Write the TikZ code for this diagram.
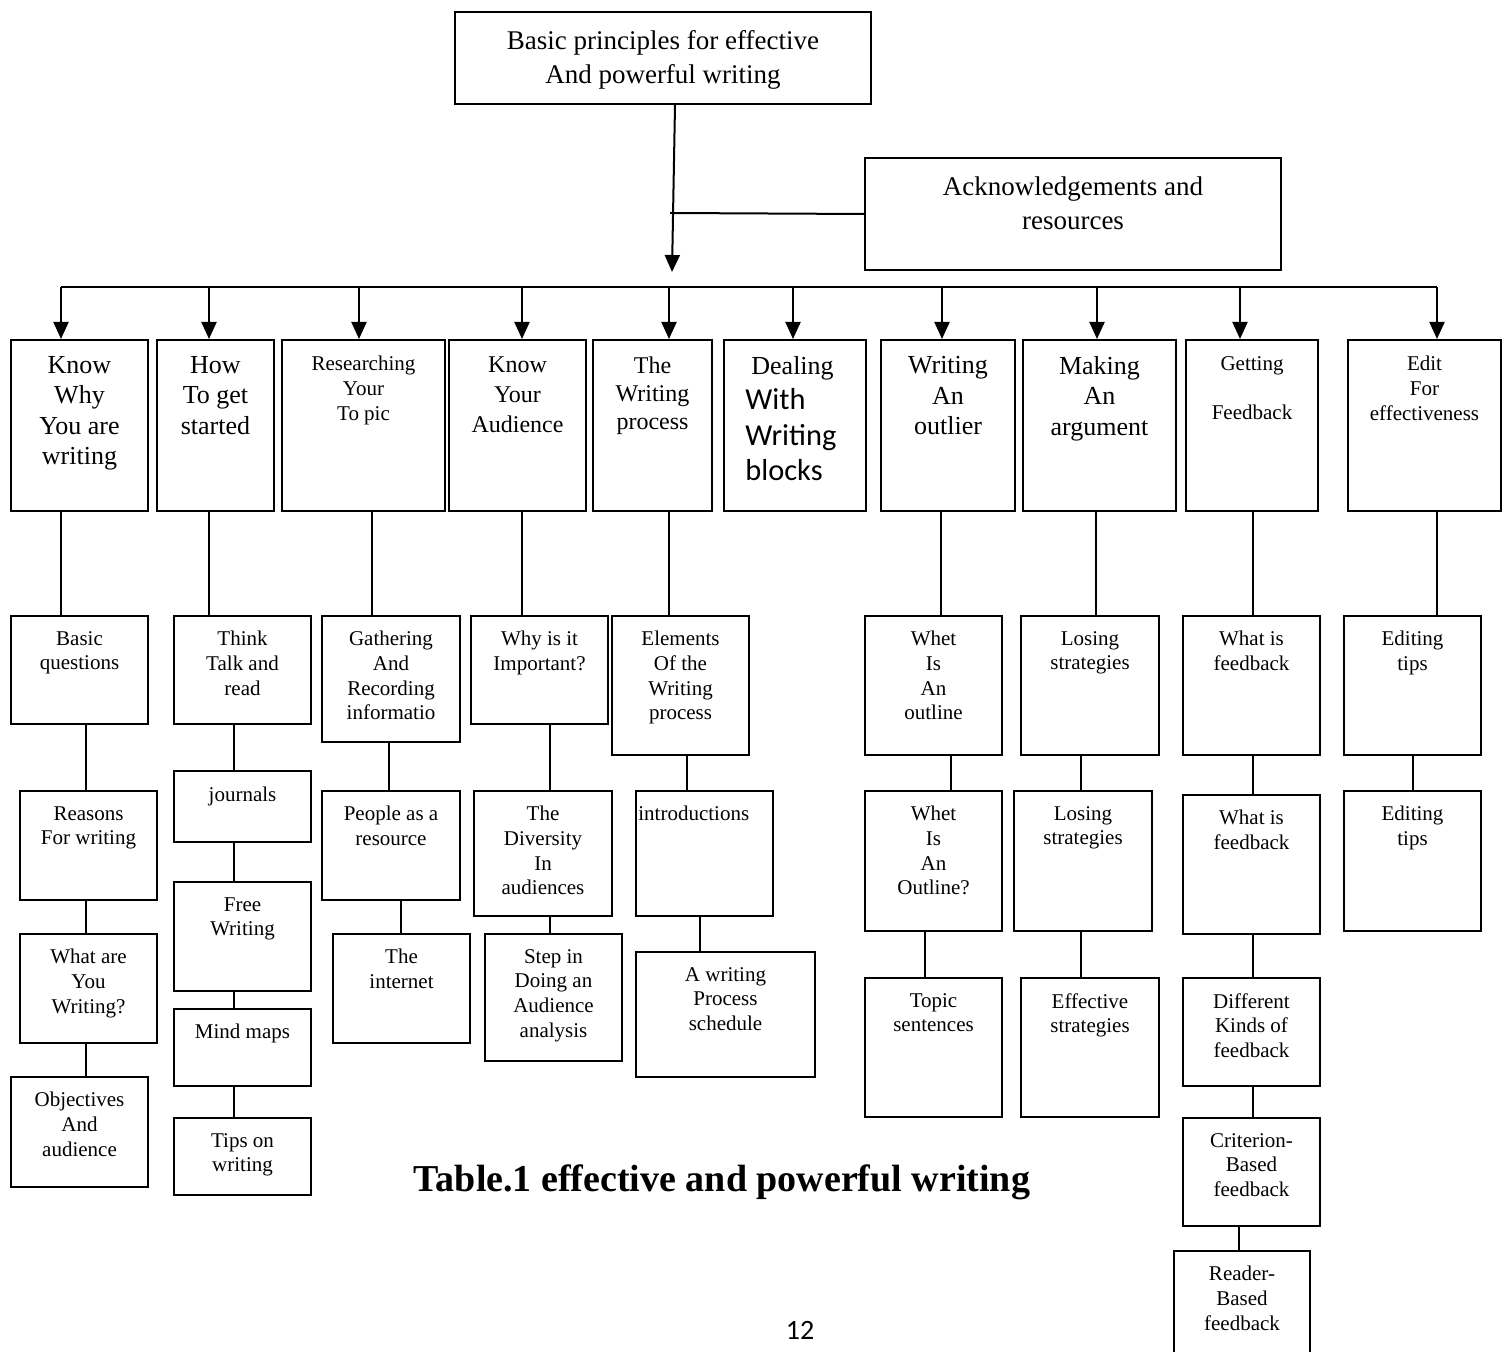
\documentclass[tikz,border=0pt]{standalone}
\usepackage{fontspec}
\setmainfont{Liberation Serif}
\newfontfamily\calfont{Carlito}
\usetikzlibrary{arrows,arrows.meta,positioning}

\newcommand{\blockfont}{\calfont\fontsize{15.2}{18}\selectfont}

\tikzset{
  box/.style={draw, line width=1pt, anchor=north west, inner sep=0pt},
  txt/.style={align=center, inner sep=0pt, font=\fontsize{10.5}{12.3}\selectfont},
  midtxt/.style={align=center, inner sep=0pt, font=\fontsize{12}{14}\selectfont},
  bigtxt/.style={align=center, inner sep=0pt, font=\fontsize{13}{15.2}\selectfont},
  headtxt/.style={align=center, inner sep=0pt, font=\fontsize{13.5}{17}\selectfont},
  link/.style={line width=1pt},
  arr/.style={line width=1pt, -{Triangle[length=8.5pt,width=7.5pt]}}
}

\begin{document}
\begin{tikzpicture}[x=0.5pt,y=-0.5pt]
        \useasboundingbox (0,0) rectangle (1504,1352);

        % head
        \node[box, minimum width=208pt, minimum height=46pt] (title) at (454,11) {};
        \node[headtxt, below=9.5pt of title.north] (titlet) {Basic principles for effective\\And powerful writing};
        \node[box, minimum width=208pt, minimum height=56pt] (ack) at (864,157) {};
        \node[headtxt, below=9.5pt of ack.north] (ackt) {Acknowledgements and\\resources};

        \coordinate (hub) at (672,272);
        \coordinate (ackend) at (670,213);
        \coordinate (busl) at (61,287);
        \coordinate (busr) at (1437,287);
        \draw[arr] (675,0 |- title.south) -- (hub);
        \draw[link] (ack.west) -- (ackend);
        \draw[link] (busl) -- (busr);

        % first row
        \node[box, minimum width=68.5pt, minimum height=85.5pt] (why) at (10,339) {};
        \node[box, minimum width=58.5pt, minimum height=85.5pt] (start) at (156,339) {};
        \node[box, minimum width=81.5pt, minimum height=85.5pt] (topic) at (281,339) {};
        \node[box, minimum width=68.5pt, minimum height=85.5pt] (aud) at (448,339) {};
        \node[box, minimum width=59.5pt, minimum height=85.5pt] (proc) at (592,339) {};
        \node[box, minimum width=71pt, minimum height=85.5pt] (block) at (723,339) {};
        \node[box, minimum width=67pt, minimum height=85.5pt] (outl) at (880,339) {};
        \node[box, minimum width=76.5pt, minimum height=85.5pt] (arg) at (1022,339) {};
        \node[box, minimum width=66pt, minimum height=85.5pt] (fb) at (1185,339) {};
        \node[box, minimum width=76.5pt, minimum height=85.5pt] (edit) at (1347,339) {};

        \node[bigtxt, below=8.5pt of why.north] (whyt) {Know\\Why\\You are\\writing};
        \node[bigtxt, below=8.5pt of start.north] (startt) {How\\To get\\started};
        \node[txt, below=8.5pt of topic.north] (topict) {Researching\\Your\\To pic};
        \node[bigtxt, font=\fontsize{12}{15}\selectfont, below=8.5pt of aud.north] (audt) {Know\\Your\\Audience};
        \node[midtxt, below=8.5pt of proc.north] (proct) {The\\Writing\\process};
        \node[bigtxt, align=left, below right=8.5pt and 11pt of block.north west] (blockt) {\hspace*{3pt}Dealing\\[2.5pt]\blockfont With\\[2.5pt]\blockfont Writing\\[2.5pt]\blockfont blocks};
        \node[bigtxt, below=8.5pt of outl.north] (outlt) {Writing\\An\\outlier};
        \node[bigtxt, below=8.5pt of arg.north] (argt) {Making\\An\\argument};
        \node[txt, below=8.5pt of fb.north] (fbt) {Getting\\[12.3pt]Feedback};
        \node[txt, below=8.5pt of edit.north] (editt) {Edit\\For\\effectiveness};

        % arrows from the bus
        \foreach \to/\x in {why/61,start/209,topic/359,aud/522,proc/669,block/793,outl/942,arg/1097,fb/1240,edit/1437}
        \draw[arr] (\x,0 |- busl) -- (\x,0 |- \to.north);

        % lower boxes
        \node[box, minimum width=68.5pt, minimum height=54pt] (bq) at (10,615) {};
        \node[box, minimum width=68.5pt, minimum height=54.5pt] (rs) at (19,790) {};
        \node[box, minimum width=68.5pt, minimum height=54.5pt] (wy) at (19,933) {};
        \node[box, minimum width=68.5pt, minimum height=55pt] (obj) at (10,1076) {};

        \node[box, minimum width=68.5pt, minimum height=54pt] (think) at (173,615) {};
        \node[box, minimum width=68.5pt, minimum height=35.5pt] (jour) at (173,770) {};
        \node[box, minimum width=68.5pt, minimum height=54.5pt] (free) at (173,881) {};
        \node[box, minimum width=68.5pt, minimum height=38.5pt] (mind) at (173,1008) {};
        \node[box, minimum width=68.5pt, minimum height=38.5pt] (tips) at (173,1117) {};

        \node[box, minimum width=69pt, minimum height=63pt] (gath) at (321,615) {};
        \node[box, minimum width=69pt, minimum height=54.5pt] (people) at (321,790) {};
        \node[box, minimum width=68.5pt, minimum height=54.5pt] (inet) at (332,933) {};

        \node[box, minimum width=68.5pt, minimum height=54pt] (imp) at (470,615) {};
        \node[box, minimum width=69pt, minimum height=62.5pt] (div) at (473,790) {};
        \node[box, minimum width=68.5pt, minimum height=63.5pt] (stp) at (484,933) {};

        \node[box, minimum width=68.5pt, minimum height=69.5pt] (elem) at (611,615) {};
        \node[box, minimum width=68.5pt, minimum height=62.5pt] (intro) at (635,790) {};
        \node[box, minimum width=89.5pt, minimum height=62.5pt] (sched) at (635,951) {};

        \node[box, minimum width=68.5pt, minimum height=69.5pt] (wio) at (864,615) {};
        \node[box, minimum width=68.5pt, minimum height=70pt] (wio2) at (864,790) {};
        \node[box, minimum width=68.5pt, minimum height=69.5pt] (tsent) at (864,977) {};

        \node[box, minimum width=69pt, minimum height=69.5pt] (lose) at (1020,615) {};
        \node[box, minimum width=69pt, minimum height=70pt] (lose2) at (1013,790) {};
        \node[box, minimum width=69pt, minimum height=69.5pt] (eff) at (1020,977) {};

        \node[box, minimum width=68.5pt, minimum height=69.5pt] (wif) at (1182,615) {};
        \node[box, minimum width=68.5pt, minimum height=69.5pt] (wif2) at (1182,794) {};
        \node[box, minimum width=68.5pt, minimum height=54pt] (kinds) at (1182,977) {};
        \node[box, minimum width=68.5pt, minimum height=54pt] (crit) at (1182,1117) {};
        \node[box, minimum width=68pt, minimum height=70pt] (reader) at (1173,1250) {};

        \node[box, minimum width=68.5pt, minimum height=69.5pt] (tip1) at (1343,615) {};
        \node[box, minimum width=68.5pt, minimum height=70pt] (tip2) at (1343,790) {};

        % box texts
        \node[txt, below=8pt of bq.north] (bqt) {Basic\\questions};
        \node[txt, below=8pt of rs.north] (rst) {Reasons\\For writing};
        \node[txt, below=8pt of wy.north] (wyt) {What are\\You\\Writing?};
        \node[txt, below=8pt of obj.north] (objt) {Objectives\\And\\audience};
        \node[txt, below=8pt of think.north] (thinkt) {Think\\Talk and\\read};
        \node[txt, below=8.5pt of jour.north] (jourt) {journals};
        \node[txt, below=8pt of free.north] (freet) {Free\\Writing};
        \node[txt, below=8pt of mind.north] (mindt) {Mind maps};
        \node[txt, below=8pt of tips.north] (tipst) {Tips on\\writing};
        \node[txt, below=8pt of gath.north] (gatht) {Gathering\\And\\Recording\\informatio};
        \node[txt, below=8pt of people.north] (peoplet) {People as a\\resource};
        \node[txt, below=8pt of inet.north] (inett) {The\\internet};
        \node[txt, below=8pt of imp.north] (impt) {Why is it\\Important?};
        \node[txt, below=8pt of div.north] (divt) {The\\Diversity\\In\\audiences};
        \node[txt, below=8pt of stp.north] (stpt) {Step in\\Doing an\\Audience\\analysis};
        \node[txt, below=8pt of elem.north] (elemt) {Elements\\Of the\\Writing\\process};
        \node[txt, below right=8pt and 1.5pt of intro.north west] (introt) {introductions};
        \node[txt, below=8pt of sched.north] (schedt) {A writing\\Process\\schedule};
        \node[txt, below=8pt of wio.north] (wiot) {Whet\\Is\\An\\outline};
        \node[txt, below=8pt of wio2.north] (wio2t) {Whet\\Is\\An\\Outline?};
        \node[txt, below=8pt of tsent.north] (tsentt) {Topic\\sentences};
        \node[txt, below=8pt of lose.north] (loset) {Losing\\strategies};
        \node[txt, below=8pt of lose2.north] (lose2t) {Losing\\strategies};
        \node[txt, below=8pt of eff.north] (efft) {Effective\\strategies};
        \node[txt, below=8pt of wif.north] (wift) {What is\\feedback};
        \node[txt, below=8pt of wif2.north] (wif2t) {What is\\feedback};
        \node[txt, below=8pt of kinds.north] (kindst) {Different\\Kinds of\\feedback};
        \node[txt, below=8pt of crit.north] (critt) {Criterion-\\Based\\feedback};
        \node[txt, below=8pt of reader.north] (readert) {Reader-\\Based\\feedback};
        \node[txt, below=8pt of tip1.north] (tip1t) {Editing\\tips};
        \node[txt, below=8pt of tip2.north] (tip2t) {Editing\\tips};

        \foreach \from/\to/\x in {why/bq/61,bq/rs/86,rs/wy/86,wy/obj/86,
          start/think/209,think/jour/234,jour/free/234,free/mind/234,mind/tips/234,
          topic/gath/372,gath/people/389,people/inet/401,
          aud/imp/522,imp/div/550,div/stp/550,
          proc/elem/669,elem/intro/687,intro/sched/700,
          outl/wio/941,wio/wio2/951,wio2/tsent/925,
          arg/lose/1096,lose/lose2/1081,lose2/eff/1081,
          fb/wif/1253,wif/wif2/1253,wif2/kinds/1253,kinds/crit/1253,crit/reader/1239,
          edit/tip1/1437,tip1/tip2/1413}
        \draw[link] (\x,0 |- \from.south) -- (\x,0 |- \to.north);

        \node[font=\bfseries\fontsize{19}{22}\selectfont] (caption) at (722,1182) {Table.1 effective and powerful writing};
        \node[font=\calfont\fontsize{14}{16}\selectfont] (pagenum) at (800,1330) {12};
\end{tikzpicture}
\end{document}
